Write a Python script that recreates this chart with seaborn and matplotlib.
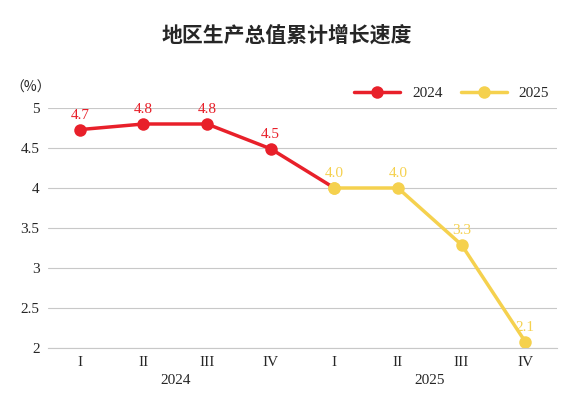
import matplotlib
matplotlib.use("Agg")
import matplotlib.pyplot as plt
import seaborn as sns
import pandas as pd

quarters = ["I", "II", "III", "IV", "I", "II", "III", "IV"]
years = ["2024", "2025"]
v2024 = [4.73, 4.80, 4.80, 4.49, 4.0]
v2025 = [4.0, 4.0, 3.29, 2.08]
lab2024 = ["4.7", "4.8", "4.8", "4.5"]
lab2025 = ["4.0", "4.0", "3.3", "2.1"]

red = "#e8202a"
yellow = "#f5d14e"
sns.set_style("white")
serif = ['Liberation Serif', 'Noto Sans CJK SC', 'DejaVu Sans']
plt.rcParams['font.family'] = serif

fig = plt.figure(figsize=(5.74, 4.04), dpi=100)
ax = fig.add_axes([48/574, 1 - 348/404, 509/574, 240/404])

d1 = pd.DataFrame({"x": list(range(5)), "y": v2024})
d2 = pd.DataFrame({"x": list(range(4, 8)), "y": v2025})
sns.lineplot(data=d2, x="x", y="y", ax=ax, color=yellow, lw=2.5, marker="o", markersize=9,
             markeredgewidth=0, zorder=2)
sns.lineplot(data=d1, x="x", y="y", ax=ax, color=red, lw=2.5, zorder=3)
ax.plot(d1["x"][:4], d1["y"][:4], 'o', color=red, ms=9, mew=0, zorder=4)
ax.plot(4, v2025[0], 'o', color=yellow, ms=9, mew=0, zorder=5)
for i, t in enumerate(lab2024):
    ax.text(i, v2024[i] + 0.1, t, color=red, ha="center", va="bottom", fontsize=11, family=serif)
for i, t in enumerate(lab2025):
    ax.text(i + 4, v2025[i] + 0.1, t, color=yellow, ha="center", va="bottom", fontsize=11, family=serif)

ax.set_xlim(-0.5, 7.5)
ax.set_ylim(2, 5)
ax.set_yticks([2, 2.5, 3, 3.5, 4, 4.5, 5])
ax.set_yticklabels(["2", "2.5", "3", "3.5", "4", "4.5", "5"], fontsize=11, family=serif)
ax.set_xticks(range(8))
ax.set_xticklabels(quarters, fontsize=11, family=serif)
ax.set_xlabel(""); ax.set_ylabel("")
ax.grid(axis="y", color="#c8c8c8", lw=0.8)
for s in ["top", "right", "left"]:
    ax.spines[s].set_visible(False)
ax.spines["bottom"].set_color("#c8c8c8")
ax.tick_params(axis="both", length=0, pad=6)
ax.text(1.5, -0.11, years[0], transform=ax.get_xaxis_transform(), ha="center", va="top", fontsize=11, family=serif)
ax.text(5.5, -0.11, years[1], transform=ax.get_xaxis_transform(), ha="center", va="top", fontsize=11, family=serif)

from matplotlib.lines import Line2D
h = [Line2D([], [], color=red, lw=2.5, marker="o", ms=9, mew=0),
     Line2D([], [], color=yellow, lw=2.5, marker="o", ms=9, mew=0)]
ax.legend(h, years, loc="lower right", bbox_to_anchor=(1.0, 1.0), ncol=2, frameon=False,
          prop={"family": serif, "size": 11}, handlelength=3, columnspacing=1.2, borderaxespad=0.1)
fig.text(10/574, 1 - 88/404, "（%）", fontsize=10, va="center", family=['Noto Sans CJK SC'])
fig.text(0.5, 1 - 35/404, "地区生产总值累计增长速度", ha="center", va="center", fontsize=15,
         fontweight="bold", family=['Noto Sans CJK SC'])
fig.savefig("out.png", dpi=100)
